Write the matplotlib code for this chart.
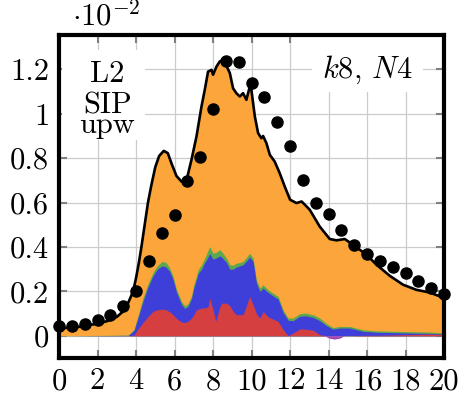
import matplotlib
matplotlib.use("Agg")
import matplotlib.pyplot as plt
from matplotlib.patches import Rectangle

plt.rcParams['font.family'] = 'serif'
plt.rcParams['font.serif'] = ['cmr10', 'DejaVu Serif']
plt.rcParams['mathtext.fontset'] = 'cm'
plt.rcParams['axes.formatter.use_mathtext'] = True

# total error (black line, orange area), values in units of 1e-2
x_tot = [0, 0.5, 1, 1.5, 2, 2.5, 3, 3.33, 3.6, 3.85, 4.0, 4.15, 4.28, 4.45, 4.62,
         4.8, 5.0, 5.2, 5.44, 5.65, 5.85, 6.1, 6.36, 6.62, 6.88, 7.14, 7.4, 7.57,
         7.74, 7.92, 8.0, 8.18, 8.35, 8.52, 8.7, 8.87, 9.04, 9.21, 9.39, 9.56, 9.73,
         9.91, 9.99, 10.17, 10.34, 10.51, 10.6, 10.77, 10.95, 11.2, 11.46, 11.72,
         12.0, 12.33, 12.6, 13.02, 13.54, 14.06, 14.41, 14.84, 15.27, 15.97, 16.49,
         17.18, 17.87, 18.56, 19.26, 20]
y_tot = [0.035, 0.036, 0.04, 0.047, 0.055, 0.066, 0.085, 0.11, 0.15, 0.2, 0.26,
         0.33, 0.4, 0.5, 0.6, 0.68, 0.76, 0.81, 0.833, 0.823, 0.775, 0.72, 0.695,
         0.70, 0.793, 0.898, 1.033, 1.108, 1.19, 1.198, 1.176, 1.213, 1.236, 1.243,
         1.215, 1.184, 1.115, 1.093, 1.078, 1.093, 1.063, 1.123, 1.108, 0.988, 0.913,
         0.89, 0.9, 0.868, 0.815, 0.785, 0.733, 0.673, 0.613, 0.598, 0.605, 0.568,
         0.492, 0.436, 0.43, 0.436, 0.41, 0.365, 0.32, 0.27, 0.23, 0.207, 0.195, 0.17]

# reference (dots)
x_ref = [i * 2 / 3 for i in range(31)]
y_ref = [0.045, 0.045, 0.055, 0.069, 0.093, 0.132, 0.204, 0.336, 0.461, 0.546,
         0.697, 0.805, 1.021, 1.239, 1.233, 1.140, 1.075, 0.965, 0.853, 0.700,
         0.600, 0.550, 0.477, 0.410, 0.368, 0.339, 0.312, 0.285, 0.249, 0.215, 0.188]

# stacked components (cumulative tops)
x_lay = [0, 3.6, 3.9, 4.1, 4.36, 4.6, 4.88, 5.1, 5.35, 5.56, 5.75, 5.92, 6.1, 6.36,
         6.53, 6.7, 6.88, 7.0, 7.14, 7.22, 7.4, 7.57, 7.74, 7.83, 8.0, 8.14, 8.35,
         8.44, 8.7, 8.87, 9.04, 9.21, 9.4, 9.56, 9.75, 9.9, 10.08, 10.25, 10.43,
         10.6, 10.86, 11.12, 11.38, 11.64, 11.9, 12.16, 12.5, 12.8, 13.2, 13.54,
         13.9, 14.23, 14.58, 15.1, 15.79, 16.5, 17.5, 18.5, 19.26, 20]
green_top = [0, 0.003, 0.03, 0.09, 0.17, 0.23, 0.285, 0.315, 0.335, 0.33, 0.305,
             0.27, 0.21, 0.155, 0.135, 0.145, 0.18, 0.23, 0.27, 0.297, 0.32, 0.35,
             0.385, 0.402, 0.372, 0.375, 0.388, 0.38, 0.35, 0.32, 0.318, 0.327, 0.33,
             0.335, 0.355, 0.372, 0.35, 0.252, 0.215, 0.23, 0.207, 0.192, 0.177,
             0.117, 0.08, 0.08, 0.1, 0.102, 0.095, 0.08, 0.055, 0.037, 0.042, 0.042,
             0.027, 0.022, 0.02, 0.018, 0.017, 0.013]
blue_top = [0, 0.002, 0.025, 0.08, 0.155, 0.215, 0.27, 0.3, 0.315, 0.31, 0.29,
            0.255, 0.197, 0.142, 0.123, 0.133, 0.168, 0.215, 0.255, 0.28, 0.3, 0.33,
            0.355, 0.37, 0.345, 0.35, 0.36, 0.355, 0.33, 0.3, 0.3, 0.31, 0.315, 0.32,
            0.338, 0.355, 0.335, 0.238, 0.2, 0.215, 0.195, 0.18, 0.165, 0.105, 0.07,
            0.068, 0.088, 0.09, 0.083, 0.068, 0.045, 0.03, 0.035, 0.035, 0.02, 0.016,
            0.014, 0.012, 0.011, 0.008]
red_top = [0, 0, 0.003, 0.03, 0.06, 0.085, 0.11, 0.117, 0.12, 0.117, 0.108, 0.095,
           0.078, 0.062, 0.06, 0.065, 0.08, 0.095, 0.117, 0.12, 0.125, 0.125, 0.13,
           0.17, 0.117, 0.065, 0.13, 0.147, 0.147, 0.135, 0.11, 0.095, 0.095, 0.095,
           0.14, 0.177, 0.14, 0.1, 0.08, 0.11, 0.085, 0.075, 0.065, 0.027, 0.0,
           0.012, 0.031, 0.03, 0.025, 0.005, 0.0, 0.0, 0.0, 0.0, 0.002, 0.002, 0.004,
           0.006, 0.008, 0.006]
x_neg = [13.8, 14.0, 14.3, 14.6, 14.8]
y_neg = [0, -0.01, -0.015, -0.01, 0]

fig = plt.figure(figsize=(4.7, 4.0), dpi=100)
ax = fig.add_axes([0.1255, 0.105, 0.8195, 0.8075])

ax.fill_between(x_tot, 0, y_tot, color='#fca53a', lw=0, zorder=2)
ax.fill_between(x_lay, 0, green_top, color='#5ba84e', lw=0, zorder=3)
ax.fill_between(x_lay, 0, blue_top, color='#3e3fd9', lw=0, zorder=4)
ax.fill_between(x_lay, 0, red_top, color='#d63f3f', lw=0, zorder=5)
ax.fill_between(x_neg, y_neg, 0, color='#a444b8', lw=0, zorder=5)
ax.plot(x_tot, y_tot, color='black', lw=1.9, zorder=6)
ax.plot(x_ref, y_ref, 'o', color='black', ms=8, zorder=7, clip_on=False)

ax.set_xlim(0, 20)
ax.set_ylim(-0.1, 1.355)
ax.set_xticks(range(0, 21, 2))
ax.set_xticklabels([str(v) for v in range(0, 21, 2)])
yt = [0, 0.2, 0.4, 0.6, 0.8, 1.0, 1.2]
ax.set_yticks(yt)
ax.set_yticklabels(['0', '0.2', '0.4', '0.6', '0.8', '1', '1.2'])
ax.tick_params(direction='in', length=6, width=1.5, color='#808080',
               top=True, right=True, labelsize=22, pad=7)
ax.grid(True, color='#cccccc', lw=0.9, zorder=0)
ax.set_axisbelow(True)
for s in ax.spines.values():
    s.set_linewidth(3)
    s.set_zorder(10)

# white label boxes that hide the grid
ax.add_patch(Rectangle((0.008, 0.675), 0.215, 0.279, transform=ax.transAxes,
                       facecolor='white', edgecolor='none', zorder=1))
ax.add_patch(Rectangle((0.657, 0.824), 0.288, 0.176, transform=ax.transAxes,
                       facecolor='white', edgecolor='none', zorder=1))

fig.text(0.153, 0.937, r'$\cdot 10^{-2}$', fontsize=22, ha='left', va='baseline')
ax.text(0.125, 0.855, 'L2', transform=ax.transAxes, ha='center', va='baseline',
        fontsize=22, zorder=8)
ax.text(0.126, 0.8235, 'SIP\nupw', transform=ax.transAxes, ha='center', va='top',
        fontsize=22, linespacing=0.62, zorder=8)
ax.text(0.918, 0.869, r'$k8,\,N4$', transform=ax.transAxes, ha='right',
        va='baseline', fontsize=22, zorder=8)

fig.savefig('out.png', dpi=100)
